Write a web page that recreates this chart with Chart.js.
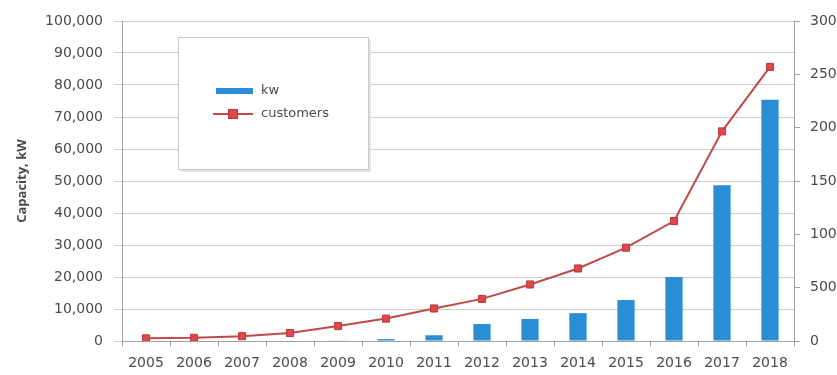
<!DOCTYPE html>
<html>
<head>
<meta charset="utf-8">
<script src="https://cdn.jsdelivr.net/npm/chart.js@4.4.1/dist/chart.umd.min.js"></script>
<style>
  html, body { margin: 0; padding: 0; background: #fff; overflow: hidden; }
  #wrap { width: 870px; height: 375px; }
</style>
</head>
<body>
<div id="wrap"><canvas id="capacityChart" width="870" height="375"></canvas></div>
<script>
// yearly installed capacity (kW) and number of customers
const years = ['2005', '2006', '2007', '2008', '2009', '2010', '2011',
               '2012', '2013', '2014', '2015', '2016', '2017', '2018'];
const kw = [0, 0, 0, 0, 200, 600, 1800, 5300, 6900, 8700, 12800, 20000, 48700, 75400];
const customers = [25, 30, 45, 75, 140, 210, 305, 395, 530, 680, 875, 1125, 1965, 2570];

const leftTicks = { min: 0, max: 100000, step: 10000 };
const rightTicks = { min: 0, max: 3000, step: 500 };

const textColor = '#4a4a4a';
const tickFont = { family: 'DejaVu Sans', size: 14 };

// legend box sitting inside the plot, upper left
const boxLegend = {
  id: 'boxLegend',
  afterDatasetsDraw(chart) {
    const ctx = chart.ctx;
    const x = 178, y = 37, w = 190, h = 132;
    ctx.save();
    ctx.fillStyle = '#e4e4e4';
    ctx.fillRect(x + 3, y + 3, w, h);
    ctx.fillStyle = '#fff';
    ctx.fillRect(x, y, w, h);
    ctx.strokeStyle = '#c8c8c8';
    ctx.lineWidth = 1;
    ctx.strokeRect(x + 0.5, y + 0.5, w, h);

    ctx.font = '13px "DejaVu Sans"';
    ctx.fillStyle = textColor;
    ctx.textBaseline = 'middle';
    const rows = [91, 114];
    chart.data.datasets.forEach((ds, i) => {
      const ry = rows[i];
      if (ds.type === 'line') {
        ctx.strokeStyle = ds.borderColor;
        ctx.lineWidth = 2;
        ctx.beginPath();
        ctx.moveTo(213, ry);
        ctx.lineTo(253, ry);
        ctx.stroke();
        ctx.fillStyle = ds.pointBackgroundColor;
        ctx.strokeStyle = ds.pointBorderColor;
        ctx.lineWidth = 1;
        ctx.fillRect(228, ry - 5, 10, 10);
        ctx.strokeRect(228.5, ry - 4.5, 9, 9);
      } else {
        ctx.fillStyle = ds.backgroundColor;
        ctx.fillRect(216, ry - 3, 37, 6);
      }
      ctx.fillStyle = textColor;
      ctx.fillText(ds.label, 261, ry);
    });
    ctx.restore();
  }
};

new Chart(document.getElementById('capacityChart'), {
  type: 'bar',
  data: {
    labels: years,
    datasets: [
      {
        type: 'bar',
        label: 'kw',
        data: kw,
        yAxisID: 'y',
        backgroundColor: '#2b8dd5',
        barPercentage: 0.36,
        categoryPercentage: 1,
        order: 2
      },
      {
        type: 'line',
        label: 'customers',
        data: customers,
        yAxisID: 'y1',
        borderColor: '#bf4a48',
        borderWidth: 2,
        pointStyle: 'rect',
        pointRadius: 5,
        pointBackgroundColor: '#e0474c',
        pointBorderColor: '#b5393c',
        pointBorderWidth: 1,
        tension: 0,
        order: 1
      }
    ]
  },
  options: {
    responsive: false,
    animation: false,
    layout: { padding: { top: 21, left: 0, right: 0, bottom: 0 } },
    plugins: {
      legend: { display: false },
      tooltip: { enabled: false }
    },
    scales: {
      x: {
        offset: true,
        grid: { drawOnChartArea: false, offset: true, tickLength: 5, color: '#a0a0a0' },
        border: { color: '#a0a0a0' },
        ticks: { color: textColor, font: tickFont, padding: 9, maxRotation: 0, autoSkip: false },
        afterFit: s => { s.height = 34; }
      },
      y: {
        position: 'left',
        min: leftTicks.min,
        max: leftTicks.max,
        grid: { color: '#cdcdcd', tickLength: 8 },
        border: { color: '#a0a0a0' },
        title: {
          display: true,
          text: 'Capacity, kW',
          color: textColor,
          font: { family: 'Open Sans', size: 13, weight: '700' },
          padding: { top: 14, bottom: 0 }
        },
        ticks: {
          stepSize: leftTicks.step,
          color: textColor,
          font: tickFont,
          padding: 11,
          callback: v => v.toLocaleString('en-US')
        },
        afterFit: s => { s.width = 122; }
      },
      y1: {
        position: 'right',
        min: rightTicks.min,
        max: rightTicks.max,
        grid: { drawOnChartArea: false, tickLength: 6, color: '#a0a0a0' },
        border: { color: '#a0a0a0' },
        ticks: {
          stepSize: rightTicks.step,
          color: textColor,
          font: tickFont,
          padding: 10,
          callback: v => String(v)
        },
        afterFit: s => { s.width = 76; }
      }
    }
  },
  plugins: [boxLegend]
});
</script>
</body>
</html>
